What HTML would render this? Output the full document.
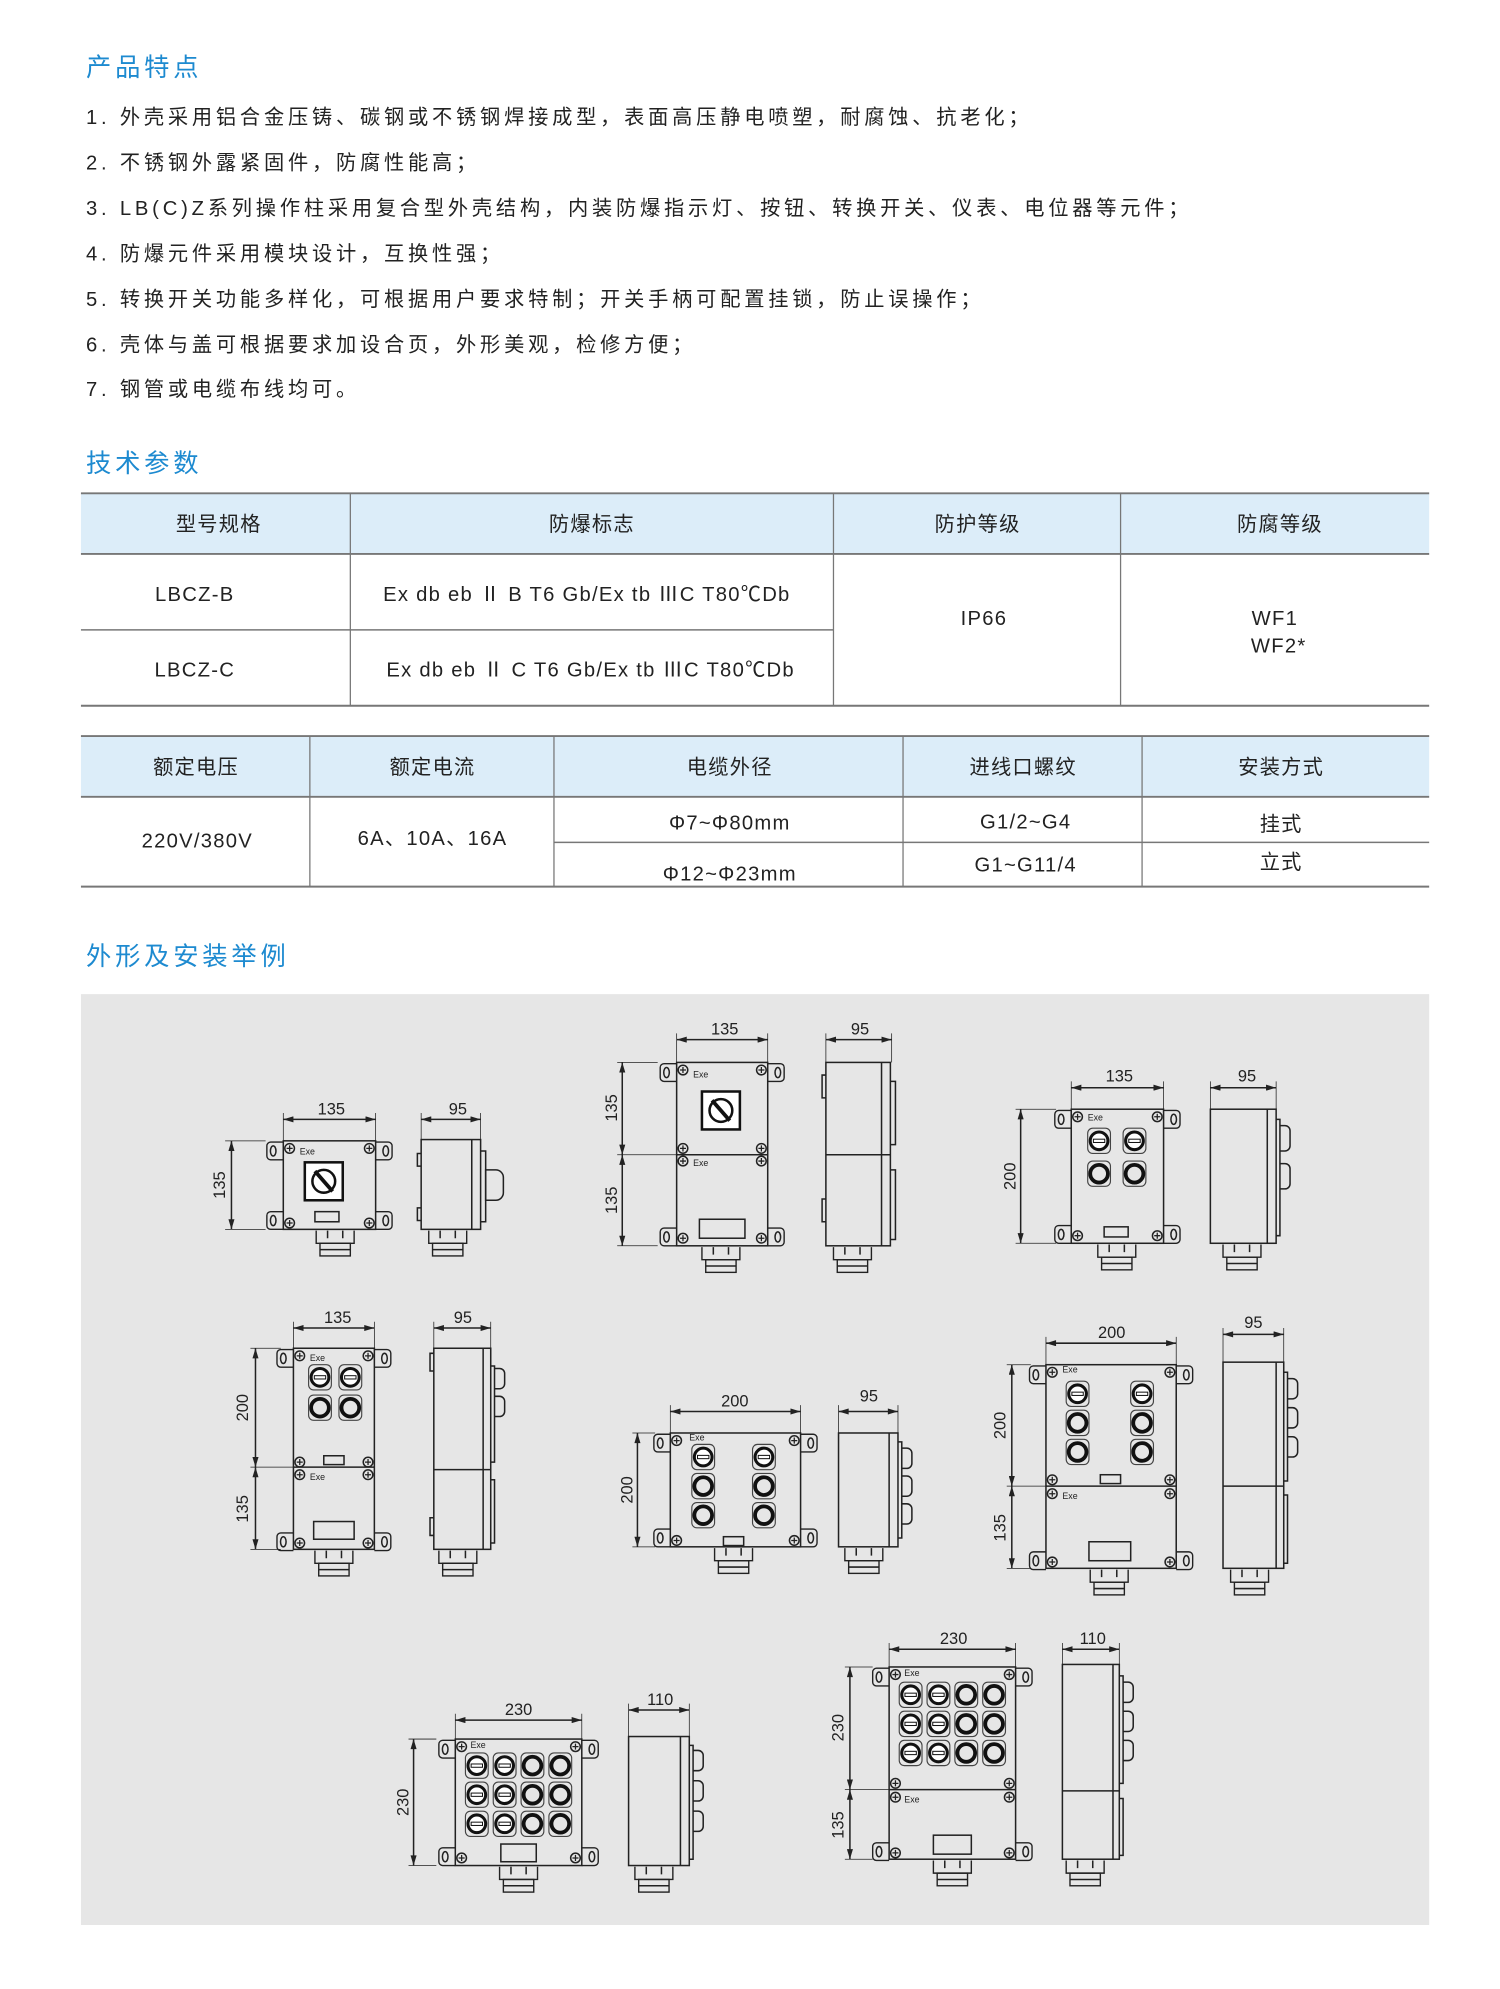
<!DOCTYPE html>
<html><head><meta charset="utf-8"><style>
html,body{margin:0;padding:0;background:#fff;}
svg{display:block;}
text{font-family:"Liberation Sans","Noto Sans CJK SC",sans-serif;}
</style></head><body>
<svg width="1500" height="1989" viewBox="0 0 1186 1572.6" xmlns="http://www.w3.org/2000/svg">
<defs>
<marker id="ar" viewBox="0 0 10 6" refX="10" refY="3" markerWidth="7" markerHeight="4" orient="auto-start-reverse"><path d="M0 0L10 3L0 6z" fill="#222"/></marker>
<g id="scr"><circle r="3.8" fill="#e6e6e6" stroke="#222" stroke-width="1.2"/><path d="M-2.4 0H2.4M0 -2.4V2.4" stroke="#222" stroke-width="1"/></g>
<g id="ear"><path d="M0 -7H-10a3 3 0 0 0 -3 3v8a3 3 0 0 0 3 3H0" fill="none" stroke="#222" stroke-width="1.1"/><ellipse cx="-8" cy="0" rx="2.2" ry="4" fill="none" stroke="#222"/></g>
<g id="pb"><rect x="-9" y="-10" width="18" height="20" rx="4" fill="none" stroke="#444" stroke-width="0.9"/><circle r="7" fill="#e6e6e6" stroke="#111" stroke-width="3"/></g>
<g id="sw"><rect x="-9" y="-10" width="18" height="20" rx="4" fill="none" stroke="#444" stroke-width="0.9"/><circle r="7" fill="#fff" stroke="#111" stroke-width="2.4"/><rect x="-4.5" y="-1.3" width="9" height="2.6" fill="#fff" stroke="#111" stroke-width="0.8"/></g>
<g id="rot"><rect x="-15" y="-15" width="30" height="30" fill="#fff" stroke="#111" stroke-width="2"/><circle r="9" fill="none" stroke="#111" stroke-width="2"/><path d="M-7 -8L7 8" stroke="#111" stroke-width="3"/></g>
<g id="gl"><path d="M-15 0V10H15V0" fill="none" stroke="#222" stroke-width="1.1"/><path d="M-6 0V6M6 0V6" stroke="#222"/><rect x="-12" y="10" width="24" height="10" fill="none" stroke="#222" stroke-width="1.1"/><path d="M-12 15H12" stroke="#222"/></g>
</defs>

<!-- Section headings -->
<g fill="#1d8ad0" font-size="20">
<text x="68" y="60" letter-spacing="3">产品特点</text>
<text x="68" y="373" letter-spacing="3">技术参数</text>
<text x="68" y="763" letter-spacing="3">外形及安装举例</text>
</g>
<g fill="#222" font-size="16" letter-spacing="3">
<text x="68" y="98">1. 外壳采用铝合金压铸、碳钢或不锈钢焊接成型，表面高压静电喷塑，耐腐蚀、抗老化；</text>
<text x="68" y="134">2. 不锈钢外露紧固件，防腐性能高；</text>
<text x="68" y="170">3. LB(C)Z系列操作柱采用复合型外壳结构，内装防爆指示灯、按钮、转换开关、仪表、电位器等元件；</text>
<text x="68" y="206">4. 防爆元件采用模块设计，互换性强；</text>
<text x="68" y="242">5. 转换开关功能多样化，可根据用户要求特制；开关手柄可配置挂锁，防止误操作；</text>
<text x="68" y="278">6. 壳体与盖可根据要求加设合页，外形美观，检修方便；</text>
<text x="68" y="313">7. 钢管或电缆布线均可。</text>
</g>

<!-- Table 1 -->
<rect x="64" y="390" width="1066" height="48" fill="#dcedf9"/>
<g stroke="#777" stroke-width="1.5" fill="none">
<path d="M64 390H1130M64 438H1130M64 558H1130"/>
<path d="M64 498H659" stroke-width="1.2"/>
<path d="M277 390V558M659 390V558M886 390V558" stroke-width="1"/>
</g>
<g fill="#222" font-size="16" text-anchor="middle" letter-spacing="1">
<text x="173" y="420">型号规格</text><text x="468" y="420">防爆标志</text><text x="773" y="420">防护等级</text><text x="1012" y="420">防腐等级</text>
<text x="154" y="475">LBCZ-B</text><text x="154" y="535">LBCZ-C</text>
<text x="464" y="475">Ex db eb Ⅱ B T6 Gb/Ex tb ⅢC T80℃Db</text>
<text x="467" y="535">Ex db eb  Ⅱ C T6 Gb/Ex tb ⅢC T80℃Db</text>
<text x="778" y="494">IP66</text>
<text x="1008" y="494">WF1</text><text x="1011" y="516">WF2*</text>
</g>

<!-- Table 2 -->
<rect x="64" y="582" width="1066" height="48" fill="#dcedf9"/>
<g stroke="#777" stroke-width="1.5" fill="none">
<path d="M64 582H1130M64 630H1130M64 701H1130"/>
<path d="M438 666H1130" stroke-width="1.2"/>
<path d="M245 582V701M438 582V701M714 582V701M903 582V701" stroke-width="1"/>
</g>
<g fill="#222" font-size="16" text-anchor="middle" letter-spacing="1">
<text x="155" y="612">额定电压</text><text x="342" y="612">额定电流</text><text x="577" y="612">电缆外径</text><text x="809" y="612">进线口螺纹</text><text x="1013" y="612">安装方式</text>
<text x="156" y="670">220V/380V</text><text x="342" y="668">6A、10A、16A</text>
<text x="577" y="656">Φ7~Φ80mm</text><text x="577" y="696">Φ12~Φ23mm</text>
<text x="811" y="655">G1/2~G4</text><text x="811" y="689">G1~G11/4</text>
<text x="1013" y="657">挂式</text><text x="1013" y="687">立式</text>
</g>

<!-- Drawing area -->
<rect x="64" y="786" width="1066" height="736" fill="#e6e6e6"/>

<g stroke="#222" stroke-width="1.2" fill="none" font-size="12">
<!-- ===== Drawing 1 ===== -->
<rect x="224" y="902" width="73" height="70"/>
<use href="#ear" x="224" y="910"/><use href="#ear" x="224" y="965"/>
<use href="#ear" transform="translate(521 0) scale(-1 1)" x="224" y="910"/><use href="#ear" transform="translate(521 0) scale(-1 1)" x="224" y="965"/>
<use href="#scr" x="229" y="908"/><use href="#scr" x="292" y="908"/><use href="#scr" x="229" y="967"/><use href="#scr" x="292" y="967"/>
<use href="#rot" x="256" y="934"/>
<rect x="249" y="958" width="19" height="8"/>
<use href="#gl" x="265" y="973"/>
<path d="M224 885H297" marker-start="url(#ar)" marker-end="url(#ar)"/><path d="M224 880V902M297 880V902" stroke-width="0.6"/>
<path d="M183 902V972" marker-start="url(#ar)" marker-end="url(#ar)"/><path d="M178 902H210M178 972H210" stroke-width="0.6"/>
<rect x="333" y="901" width="47" height="71"/><path d="M373 901V972"/><path d="M380 910h4v56h-4"/><path d="M384 925h8a6 6 0 0 1 6 6v12a6 6 0 0 1 -6 6h-8z"/>
<path d="M333 912h-3v10h3M333 955h-3v10h3"/>
<use href="#gl" x="354" y="973"/>
<path d="M333 885H380" marker-start="url(#ar)" marker-end="url(#ar)"/><path d="M333 880V901M380 880V901" stroke-width="0.6"/>

<!-- ===== Drawing 2 ===== -->
<rect x="535" y="840" width="72" height="145"/><path d="M535 913H607"/>
<use href="#ear" x="535" y="848"/><use href="#ear" x="535" y="978"/>
<use href="#ear" transform="translate(1142 0) scale(-1 1)" x="535" y="848"/><use href="#ear" transform="translate(1142 0) scale(-1 1)" x="535" y="978"/>
<use href="#scr" x="540" y="846"/><use href="#scr" x="602" y="846"/><use href="#scr" x="540" y="908"/><use href="#scr" x="602" y="908"/>
<use href="#scr" x="540" y="918"/><use href="#scr" x="602" y="918"/><use href="#scr" x="540" y="979"/><use href="#scr" x="602" y="979"/>
<use href="#rot" x="570" y="878"/>
<rect x="553" y="964" width="36" height="15"/>
<use href="#gl" x="570" y="986"/>
<path d="M535 822H607" marker-start="url(#ar)" marker-end="url(#ar)"/><path d="M535 817V840M607 817V840" stroke-width="0.6"/>
<path d="M492 840V913" marker-start="url(#ar)" marker-end="url(#ar)"/><path d="M492 913V985" marker-start="url(#ar)" marker-end="url(#ar)"/><path d="M488 840H520M488 913H535M488 985H520" stroke-width="0.6"/>
<rect x="653" y="840" width="51" height="145"/><path d="M653 913H704M697 840V985M704 855h4v50h-4M704 925h4v55h-4"/>
<path d="M653 850h-3v18h3M653 948h-3v18h3"/>
<use href="#gl" x="674" y="986"/>
<path d="M653 822H705" marker-start="url(#ar)" marker-end="url(#ar)"/><path d="M653 817V840M705 817V840" stroke-width="0.6"/>

<!-- ===== Drawing 3 ===== -->
<rect x="847" y="877" width="73" height="106"/>
<use href="#ear" x="847" y="885"/><use href="#ear" x="847" y="976"/>
<use href="#ear" transform="translate(1767 0) scale(-1 1)" x="847" y="885"/><use href="#ear" transform="translate(1767 0) scale(-1 1)" x="847" y="976"/>
<use href="#scr" x="852" y="883"/><use href="#scr" x="915" y="883"/><use href="#scr" x="852" y="977"/><use href="#scr" x="915" y="977"/>
<use href="#sw" x="869" y="902"/><use href="#sw" x="897" y="902"/><use href="#pb" x="869" y="928"/><use href="#pb" x="897" y="928"/>
<rect x="873" y="970" width="19" height="8"/>
<use href="#gl" x="883" y="984"/>
<path d="M847 860H920" marker-start="url(#ar)" marker-end="url(#ar)"/><path d="M847 855V877M920 855V877" stroke-width="0.6"/>
<path d="M807 877V983" marker-start="url(#ar)" marker-end="url(#ar)"/><path d="M803 877H835M803 983H835" stroke-width="0.6"/>
<rect x="957" y="877" width="52" height="106"/><path d="M1002 877V983M1009 885h3v92h-3"/>
<path d="M1012 890h4a4 4 0 0 1 4 4v12a4 4 0 0 1 -4 4h-4M1012 920h4a4 4 0 0 1 4 4v12a4 4 0 0 1 -4 4h-4"/>
<use href="#gl" x="982" y="984"/>
<path d="M957 860H1009" marker-start="url(#ar)" marker-end="url(#ar)"/><path d="M957 855V877M1009 855V877" stroke-width="0.6"/>

<!-- ===== Drawing 4 ===== -->
<rect x="232" y="1066" width="64" height="159"/><path d="M232 1160H296"/>
<use href="#ear" x="232" y="1074"/><use href="#ear" x="232" y="1219"/>
<use href="#ear" transform="translate(528 0) scale(-1 1)" x="232" y="1074"/><use href="#ear" transform="translate(528 0) scale(-1 1)" x="232" y="1219"/>
<use href="#scr" x="237" y="1072"/><use href="#scr" x="291" y="1072"/><use href="#scr" x="237" y="1156"/><use href="#scr" x="291" y="1156"/>
<use href="#scr" x="237" y="1166"/><use href="#scr" x="291" y="1166"/><use href="#scr" x="237" y="1220"/><use href="#scr" x="291" y="1220"/>
<use href="#sw" x="253" y="1089"/><use href="#sw" x="277" y="1089"/><use href="#pb" x="253" y="1113"/><use href="#pb" x="277" y="1113"/>
<rect x="256" y="1151" width="16" height="7"/><rect x="248" y="1203" width="32" height="14"/>
<use href="#gl" x="264" y="1226"/>
<path d="M232 1050H296" marker-start="url(#ar)" marker-end="url(#ar)"/><path d="M232 1045V1066M296 1045V1066" stroke-width="0.6"/>
<path d="M202 1066V1160" marker-start="url(#ar)" marker-end="url(#ar)"/><path d="M202 1160V1225" marker-start="url(#ar)" marker-end="url(#ar)"/><path d="M198 1066H222M198 1160H232M198 1225H222" stroke-width="0.6"/>
<rect x="343" y="1066" width="45" height="159"/><path d="M343 1162H388M382 1066V1225M388 1080h3v76h-3M388 1170h3v50h-3"/>
<path d="M391 1082h4a4 4 0 0 1 4 4v8a4 4 0 0 1 -4 4h-4M391 1104h4a4 4 0 0 1 4 4v8a4 4 0 0 1 -4 4h-4"/>
<path d="M343 1070h-3v14h3M343 1200h-3v14h3"/>
<use href="#gl" x="362" y="1226"/>
<path d="M343 1050H388" marker-start="url(#ar)" marker-end="url(#ar)"/><path d="M343 1045V1066M388 1045V1066" stroke-width="0.6"/>

<!-- ===== Drawing 5 ===== -->
<rect x="530" y="1133" width="103" height="90"/>
<use href="#ear" x="530" y="1141"/><use href="#ear" x="530" y="1216"/>
<use href="#ear" transform="translate(1163 0) scale(-1 1)" x="530" y="1141"/><use href="#ear" transform="translate(1163 0) scale(-1 1)" x="530" y="1216"/>
<use href="#scr" x="535" y="1139"/><use href="#scr" x="628" y="1139"/><use href="#scr" x="535" y="1218"/><use href="#scr" x="628" y="1218"/>
<use href="#sw" x="556" y="1152"/><use href="#sw" x="604" y="1152"/><use href="#pb" x="556" y="1175"/><use href="#pb" x="604" y="1175"/><use href="#pb" x="556" y="1198"/><use href="#pb" x="604" y="1198"/>
<rect x="572" y="1215" width="16" height="7"/>
<use href="#gl" x="580" y="1224"/>
<path d="M530 1116H633" marker-start="url(#ar)" marker-end="url(#ar)"/><path d="M530 1111V1133M633 1111V1133" stroke-width="0.6"/>
<path d="M504 1133V1223" marker-start="url(#ar)" marker-end="url(#ar)"/><path d="M500 1133H518M500 1223H518" stroke-width="0.6"/>
<rect x="663" y="1133" width="47" height="90"/><path d="M703 1133V1223M710 1140h3v76h-3"/>
<path d="M713 1145h4a4 4 0 0 1 4 4v8a4 4 0 0 1 -4 4h-4M713 1167h4a4 4 0 0 1 4 4v8a4 4 0 0 1 -4 4h-4M713 1189h4a4 4 0 0 1 4 4v8a4 4 0 0 1 -4 4h-4"/>
<use href="#gl" x="683" y="1224"/>
<path d="M663 1116H710" marker-start="url(#ar)" marker-end="url(#ar)"/><path d="M663 1111V1133M710 1111V1133" stroke-width="0.6"/>

<!-- ===== Drawing 6 ===== -->
<rect x="827" y="1079" width="103" height="161"/><path d="M827 1175H930"/>
<use href="#ear" x="827" y="1087"/><use href="#ear" x="827" y="1234"/>
<use href="#ear" transform="translate(1757 0) scale(-1 1)" x="827" y="1087"/><use href="#ear" transform="translate(1757 0) scale(-1 1)" x="827" y="1234"/>
<use href="#scr" x="832" y="1085"/><use href="#scr" x="925" y="1085"/><use href="#scr" x="832" y="1170"/><use href="#scr" x="925" y="1170"/>
<use href="#scr" x="832" y="1181"/><use href="#scr" x="925" y="1181"/><use href="#scr" x="832" y="1235"/><use href="#scr" x="925" y="1235"/>
<use href="#sw" x="852" y="1102"/><use href="#sw" x="903" y="1102"/><use href="#pb" x="852" y="1125"/><use href="#pb" x="903" y="1125"/><use href="#pb" x="852" y="1148"/><use href="#pb" x="903" y="1148"/>
<rect x="870" y="1166" width="16" height="7"/><rect x="861" y="1219" width="33" height="15"/>
<use href="#gl" x="877" y="1241"/>
<path d="M827 1062H930" marker-start="url(#ar)" marker-end="url(#ar)"/><path d="M827 1057V1079M930 1057V1079" stroke-width="0.6"/>
<path d="M800 1079V1175" marker-start="url(#ar)" marker-end="url(#ar)"/><path d="M800 1175V1240" marker-start="url(#ar)" marker-end="url(#ar)"/><path d="M796 1079H815M796 1175H827M796 1240H815" stroke-width="0.6"/>
<rect x="967" y="1077" width="48" height="163"/><path d="M967 1175H1015M1009 1077V1240M1015 1085h3v86h-3M1015 1182h3v54h-3"/>
<path d="M1018 1090h4a4 4 0 0 1 4 4v8a4 4 0 0 1 -4 4h-4M1018 1113h4a4 4 0 0 1 4 4v8a4 4 0 0 1 -4 4h-4M1018 1136h4a4 4 0 0 1 4 4v8a4 4 0 0 1 -4 4h-4"/>
<use href="#gl" x="988" y="1241"/>
<path d="M967 1055H1015" marker-start="url(#ar)" marker-end="url(#ar)"/><path d="M967 1050V1077M1015 1050V1077" stroke-width="0.6"/>

<!-- ===== Drawing 7 ===== -->
<rect x="360" y="1375" width="100" height="100"/>
<use href="#ear" x="360" y="1383"/><use href="#ear" x="360" y="1468"/>
<use href="#ear" transform="translate(820 0) scale(-1 1)" x="360" y="1383"/><use href="#ear" transform="translate(820 0) scale(-1 1)" x="360" y="1468"/>
<use href="#scr" x="365" y="1381"/><use href="#scr" x="455" y="1381"/><use href="#scr" x="365" y="1469"/><use href="#scr" x="455" y="1469"/>
<use href="#sw" x="377" y="1396"/><use href="#sw" x="399" y="1396"/><use href="#pb" x="421" y="1396"/><use href="#pb" x="443" y="1396"/>
<use href="#sw" x="377" y="1419"/><use href="#sw" x="399" y="1419"/><use href="#pb" x="421" y="1419"/><use href="#pb" x="443" y="1419"/>
<use href="#sw" x="377" y="1442"/><use href="#sw" x="399" y="1442"/><use href="#pb" x="421" y="1442"/><use href="#pb" x="443" y="1442"/>
<rect x="396" y="1458" width="28" height="14"/>
<use href="#gl" x="410" y="1476"/>
<path d="M360 1360H460" marker-start="url(#ar)" marker-end="url(#ar)"/><path d="M360 1355V1375M460 1355V1375" stroke-width="0.6"/>
<path d="M327 1375V1475" marker-start="url(#ar)" marker-end="url(#ar)"/><path d="M323 1375H345M323 1475H345" stroke-width="0.6"/>
<rect x="497" y="1373" width="48" height="102"/><path d="M538 1373V1475M545 1380h3v90h-3"/>
<path d="M548 1384h4a4 4 0 0 1 4 4v8a4 4 0 0 1 -4 4h-4M548 1408h4a4 4 0 0 1 4 4v8a4 4 0 0 1 -4 4h-4M548 1432h4a4 4 0 0 1 4 4v8a4 4 0 0 1 -4 4h-4"/>
<use href="#gl" x="517" y="1476"/>
<path d="M497 1352H545" marker-start="url(#ar)" marker-end="url(#ar)"/><path d="M497 1347V1373M545 1347V1373" stroke-width="0.6"/>

<!-- ===== Drawing 8 ===== -->
<rect x="703" y="1318" width="100" height="152"/><path d="M703 1415H803"/>
<use href="#ear" x="703" y="1326"/><use href="#ear" x="703" y="1464"/>
<use href="#ear" transform="translate(1506 0) scale(-1 1)" x="703" y="1326"/><use href="#ear" transform="translate(1506 0) scale(-1 1)" x="703" y="1464"/>
<use href="#scr" x="708" y="1324"/><use href="#scr" x="798" y="1324"/><use href="#scr" x="708" y="1410"/><use href="#scr" x="798" y="1410"/>
<use href="#scr" x="708" y="1421"/><use href="#scr" x="798" y="1421"/><use href="#scr" x="708" y="1465"/><use href="#scr" x="798" y="1465"/>
<use href="#sw" x="720" y="1340"/><use href="#sw" x="742" y="1340"/><use href="#pb" x="764" y="1340"/><use href="#pb" x="786" y="1340"/>
<use href="#sw" x="720" y="1363"/><use href="#sw" x="742" y="1363"/><use href="#pb" x="764" y="1363"/><use href="#pb" x="786" y="1363"/>
<use href="#sw" x="720" y="1386"/><use href="#sw" x="742" y="1386"/><use href="#pb" x="764" y="1386"/><use href="#pb" x="786" y="1386"/>
<rect x="738" y="1451" width="30" height="15"/>
<use href="#gl" x="753" y="1471"/>
<path d="M703 1304H803" marker-start="url(#ar)" marker-end="url(#ar)"/><path d="M703 1299V1318M803 1299V1318" stroke-width="0.6"/>
<path d="M672 1318V1415" marker-start="url(#ar)" marker-end="url(#ar)"/><path d="M672 1415V1470" marker-start="url(#ar)" marker-end="url(#ar)"/><path d="M668 1318H690M668 1415H703M668 1470H690" stroke-width="0.6"/>
<rect x="840" y="1316" width="45" height="154"/><path d="M840 1416H885M880 1316V1470M885 1325h3v85h-3M885 1422h3v45h-3"/>
<path d="M888 1330h4a4 4 0 0 1 4 4v8a4 4 0 0 1 -4 4h-4M888 1353h4a4 4 0 0 1 4 4v8a4 4 0 0 1 -4 4h-4M888 1376h4a4 4 0 0 1 4 4v8a4 4 0 0 1 -4 4h-4"/>
<use href="#gl" x="858" y="1471"/>
<path d="M840 1304H885" marker-start="url(#ar)" marker-end="url(#ar)"/><path d="M840 1299V1316M885 1299V1316" stroke-width="0.6"/>
</g>

<!-- dimension labels -->
<g fill="#222" font-size="13" text-anchor="middle">
<text x="262" y="881">135</text><text x="362" y="881">95</text>
<text transform="translate(178 937) rotate(-90)">135</text>
<text x="573" y="818">135</text><text x="680" y="818">95</text>
<text transform="translate(488 876) rotate(-90)">135</text><text transform="translate(488 949) rotate(-90)">135</text>
<text x="885" y="855">135</text><text x="986" y="855">95</text>
<text transform="translate(803 930) rotate(-90)">200</text>
<text x="267" y="1046">135</text><text x="366" y="1046">95</text>
<text transform="translate(196 1113) rotate(-90)">200</text><text transform="translate(196 1193) rotate(-90)">135</text>
<text x="581" y="1112">200</text><text x="687" y="1108">95</text>
<text transform="translate(500 1178) rotate(-90)">200</text>
<text x="879" y="1058">200</text><text x="991" y="1050">95</text>
<text transform="translate(795 1127) rotate(-90)">200</text><text transform="translate(795 1208) rotate(-90)">135</text>
<text x="410" y="1356">230</text><text x="522" y="1348">110</text>
<text transform="translate(323 1425) rotate(-90)">230</text>
<text x="754" y="1300">230</text><text x="864" y="1300">110</text>
<text transform="translate(667 1366) rotate(-90)">230</text><text transform="translate(667 1443) rotate(-90)">135</text>
</g>
<g fill="#222" font-size="7">
<text x="237" y="913">Exe</text>
<text x="548" y="852">Exe</text><text x="548" y="922">Exe</text>
<text x="860" y="886">Exe</text>
<text x="245" y="1076">Exe</text><text x="245" y="1170">Exe</text>
<text x="545" y="1139">Exe</text>
<text x="840" y="1085">Exe</text><text x="840" y="1185">Exe</text>
<text x="372" y="1382">Exe</text>
<text x="715" y="1325">Exe</text><text x="715" y="1425">Exe</text>
</g>
</svg>
</body></html>
